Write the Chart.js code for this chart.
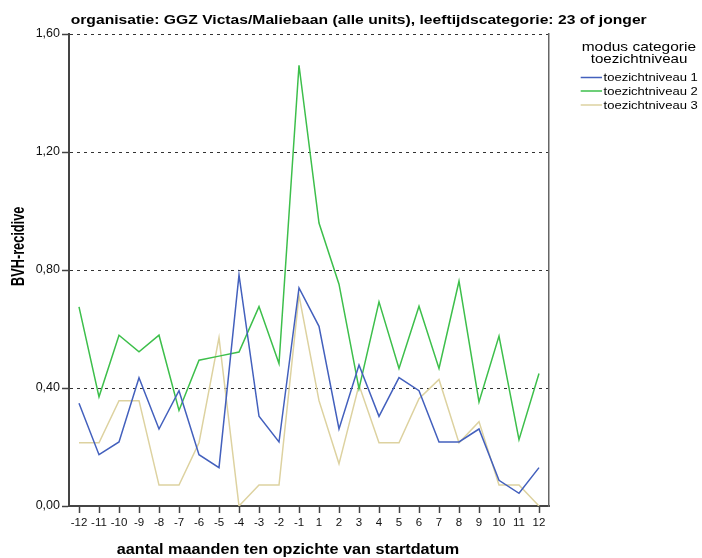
<!DOCTYPE html>
<html>
<head>
<meta charset="utf-8">
<script src="https://cdn.jsdelivr.net/npm/chart.js@4"></script>
<style>
  body { margin: 0; background: #fff; }
  canvas { display: block; }
</style>
</head>
<body>
<canvas id="chart" width="702" height="558"></canvas>
<script>
// months relative to start date (no 0)
const months = ['-12', '-11', '-10', '-9', '-8', '-7', '-6', '-5', '-4', '-3', '-2', '-1',
    '1', '2', '3', '4', '5', '6', '7', '8', '9', '10', '11', '12'];

// BVH-recidive per supervision level
const niveau1 = [0.348, 0.174, 0.217, 0.435, 0.261, 0.391, 0.174, 0.130, 0.783, 0.304, 0.217, 0.739,
    0.609, 0.261, 0.478, 0.304, 0.435, 0.391, 0.217, 0.217, 0.261, 0.087, 0.043, 0.130];
const niveau2 = [0.675, 0.370, 0.579, 0.523, 0.579, 0.324, 0.494, 0.508, 0.522, 0.676, 0.483, 1.494,
    0.959, 0.752, 0.398, 0.692, 0.466, 0.677, 0.466, 0.762, 0.353, 0.576, 0.225, 0.449];
const niveau3 = [0.214, 0.214, 0.357, 0.357, 0.071, 0.071, 0.214, 0.571, 0.000, 0.071, 0.071, 0.714,
    0.357, 0.143, 0.410, 0.214, 0.214, 0.364, 0.429, 0.214, 0.286, 0.071, 0.071, 0.000];

const seriesLabels = ['toezichtniveau 1', 'toezichtniveau 2', 'toezichtniveau 3'];
const seriesColors = ['#4360bd', '#3dbf4b', '#ddd2a0'];
const yTicks = [0, 0.4, 0.8, 1.2, 1.6];

const titleText = 'organisatie: GGZ Victas/Maliebaan (alle units), leeftijdscategorie: 23 of jonger';
const xTitle = 'aantal maanden ten opzichte van startdatum';
const yTitle = 'BVH-recidive';
const legendTitle = ['modus categorie', 'toezichtniveau'];

const FONT = '"Liberation Sans", Arial, sans-serif';

// draw text stretched into a given box (left x, baseline, width, cap height)
function fitText(ctx, txt, x, base, w, h, weight, rotated) {
    ctx.save();
    ctx.font = weight + ' 20px ' + FONT;
    const tw = ctx.measureText(txt).width;
    const cap = ctx.measureText('H').actualBoundingBoxAscent;
    ctx.translate(x, base);
    if (rotated) ctx.rotate(-Math.PI / 2);
    ctx.scale(w / tw, h / cap);
    ctx.textAlign = 'left';
    ctx.textBaseline = 'alphabetic';
    ctx.fillStyle = '#000';
    ctx.fillText(txt, 0, 0);
    ctx.restore();
}

const textPlugin = {
    id: 'texts',
    afterDraw(chart) {
        const ctx = chart.ctx;
        // main title
        fitText(ctx, titleText, 70.7, 23.8, 576, 8.6, 'bold');
        // axis titles
        fitText(ctx, xTitle, 116.7, 554, 342.6, 10.6, 'bold');
        fitText(ctx, yTitle, 24, 286, 79.3, 12.3, 'bold', true);
        // legend
        fitText(ctx, legendTitle[0], 581.7, 50.5, 114.3, 8.6, 'normal');
        fitText(ctx, legendTitle[1], 590.7, 62.8, 96.7, 8.6, 'normal');
        const rowBase = [81, 94.5, 108.5];
        chart.data.datasets.forEach((ds, i) => {
            ctx.save();
            ctx.strokeStyle = ds.borderColor;
            ctx.lineWidth = 1.5;
            ctx.beginPath();
            ctx.moveTo(580.7, rowBase[i] - 3.5);
            ctx.lineTo(602, rowBase[i] - 3.5);
            ctx.stroke();
            ctx.restore();
            fitText(ctx, ds.label, 603.5, rowBase[i], 94.3, 8.2, 'normal');
        });
    }
};

const chartData = [niveau1, niveau2, niveau3];

new Chart(document.getElementById('chart'), {
    type: 'line',
    data: {
        labels: months,
        datasets: chartData.map((d, i) => ({
            label: seriesLabels[i],
            data: d,
            borderColor: seriesColors[i],
            backgroundColor: seriesColors[i],
            borderWidth: 1.5,
            pointRadius: 0,
            tension: 0,
            fill: false
        }))
    },
    options: {
        responsive: false,
        animation: false,
        layout: {
            padding: { top: 34, right: 153, bottom: 0, left: 0 }
        },
        plugins: {
            legend: { display: false },
            title: { display: false },
            tooltip: { enabled: false }
        },
        scales: {
            x: {
                offset: true,
                afterFit: function(axis) { axis.height = 52; },
                grid: {
                    drawOnChartArea: false,
                    drawTicks: true,
                    tickLength: 7,
                    tickColor: '#444',
                    tickWidth: 1.5,
                    offset: false
                },
                border: { color: '#444', width: 2 },
                ticks: {
                    autoSkip: false,
                    maxRotation: 0,
                    padding: 3,
                    color: '#111',
                    font: { family: FONT, size: 11.5 }
                }
            },
            y: {
                min: 0,
                max: 1.6,
                afterFit: function(axis) { axis.width = 69; },
                afterBuildTicks: function(axis) {
                    axis.ticks = yTicks.map(v => ({ value: v }));
                },
                grid: {
                    color: '#333',
                    lineWidth: 1,
                    tickBorderDash: [],
                    tickLength: 7,
                    tickColor: '#444',
                    tickWidth: 1.5
                },
                // in v4 border.dash sets the dash of the grid lines
                border: { color: '#444', width: 2, dash: [3, 4] },
                ticks: {
                    padding: 2,
                    color: '#111',
                    font: { family: FONT, size: 12.5 },
                    callback: function(v) { return v.toFixed(2).replace('.', ','); }
                }
            },
            yRight: {
                position: 'right',
                min: 0,
                max: 1.6,
                afterFit: function(axis) { axis.width = 0; },
                grid: { drawOnChartArea: false, drawTicks: false },
                border: { color: '#666', width: 1.5 },
                ticks: { display: false }
            }
        }
    },
    plugins: [textPlugin]
});
</script>
</body>
</html>
